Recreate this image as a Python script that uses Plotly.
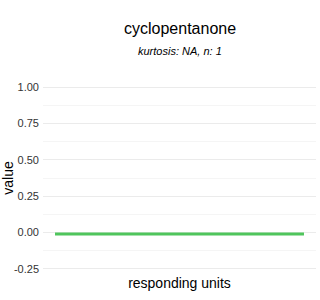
import plotly.graph_objects as go

title = "cyclopentanone"
subtitle = "kurtosis: NA, n: 1"
categories = ["responding units"]
values = [-0.01]
y_ticks = [-0.25, 0.0, 0.25, 0.5, 0.75, 1.0]
y_ticklabels = ["-0.25", "0.00", "0.25", "0.50", "0.75", "1.00"]

half_width = 0.456
fig = go.Figure()
for i, (c, v) in enumerate(zip(categories, values)):
    fig.add_trace(go.Scatter(
        x=[i - half_width, i + half_width], y=[v, v],
        mode="lines", line=dict(color="#4fc55c", width=3),
        showlegend=False, hoverinfo="skip"))

font = "Liberation Sans, Arial, sans-serif"
fig.update_layout(
    width=320, height=300,
    margin=dict(l=43, r=4, t=80, b=24),
    paper_bgcolor="white", plot_bgcolor="white",
    font=dict(family=font, color="#1a1a1a"),
    xaxis=dict(range=[-0.5, 0.5], showticklabels=False, showgrid=False, zeroline=False,
               automargin=False,
               ticks="", title=dict(text=categories[0], font=dict(size=14, color="black"), standoff=2)),
    yaxis=dict(range=[-0.3, 1.05], tickvals=y_ticks, ticktext=y_ticklabels,
               tickfont=dict(size=11, color="#333333"), automargin=False,
               gridcolor="#ebebeb", gridwidth=1, zeroline=False, ticks="",
               ticklen=0, ticklabelstandoff=3,
               minor=dict(tick0=0.125, dtick=0.25, showgrid=True, gridcolor="#f5f5f5", gridwidth=1),
               title=dict(text="value", font=dict(size=14, color="black"), standoff=4)),
)
fig.add_annotation(text=title, xref="paper", yref="paper", x=0.5, y=1, yshift=80 - 28,
                   xanchor="center", yanchor="middle", showarrow=False,
                   font=dict(size=16, family=font, color="black"))
fig.add_annotation(text=f"<i>{subtitle}</i>", xref="paper", yref="paper", x=0.5, y=1, yshift=80 - 51,
                   xanchor="center", yanchor="middle", showarrow=False,
                   font=dict(size=11, family=font, color="black"))
fig.write_html("out.html")
